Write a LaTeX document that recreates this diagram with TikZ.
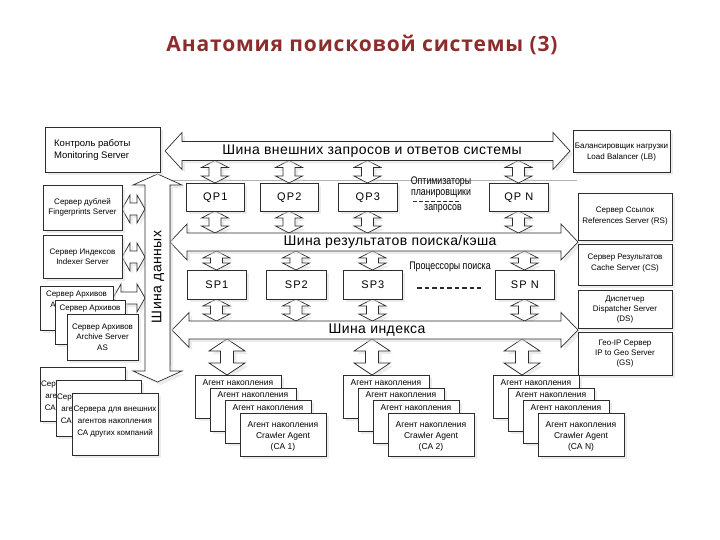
\documentclass[tikz,border=0pt]{standalone}
\usepackage{fontspec}
\setmainfont{Liberation Sans}
\newfontfamily\narrowfont[FakeStretch=0.8]{Liberation Sans}
\newfontfamily\spacedfont[LetterSpace=10]{Liberation Sans}
\newfontfamily\busfont[LetterSpace=3]{Liberation Sans}
\newfontfamily\titlefont[LetterSpace=4]{Open Sans}
\usetikzlibrary{shadows}
\definecolor{titlered}{RGB}{140,45,45}
\definecolor{lineclr}{RGB}{45,45,45}
\tikzset{
  shad/.style={drop shadow={shadow xshift=3pt,shadow yshift=-3pt,fill=black!15}},
  box/.style={draw=lineclr,line width=0.7pt,fill=white,shad,inner sep=0pt,anchor=north west},
  arr/.style={draw=lineclr,line width=0.7pt,fill=white,line join=miter,shad},
  txt/.style={font=\fontsize{8}{10.5}\selectfont,align=center,inner sep=0pt},
  exttxt/.style={font=\fontsize{8}{12}\selectfont,align=center,inner sep=0pt},
  bustxt/.style={font=\busfont\fontsize{14}{15}\selectfont,inner sep=0pt},
  proclbl/.style={font=\spacedfont\fontsize{11}{12}\selectfont,inner sep=0pt},
  nartxt/.style={font=\narrowfont\fontsize{11}{12}\selectfont,inner sep=0pt},
  thickdash/.style={line width=1.8pt,draw=lineclr,dash pattern=on 4.5pt off 3pt},
}
% horizontal double arrow: x1 x2 yc shafthalf headhalf headlen
\newcommand{\hdarr}[6]{%
  \draw[arr] (#1,#3) -- ({#1+#6},{#3-#5}) -- ({#1+#6},{#3-#4}) -- ({#2-#6},{#3-#4}) -- ({#2-#6},{#3-#5}) -- (#2,#3) -- ({#2-#6},{#3+#5}) -- ({#2-#6},{#3+#4}) -- ({#1+#6},{#3+#4}) -- ({#1+#6},{#3+#5}) -- cycle;}
% vertical double arrow: xc y1 y2 shafthalf headhalf headlen
\newcommand{\vdarr}[6]{%
  \draw[arr] (#1,#2) -- ({#1+#5},{#2+#6}) -- ({#1+#4},{#2+#6}) -- ({#1+#4},{#3-#6}) -- ({#1+#5},{#3-#6}) -- (#1,#3) -- ({#1-#5},{#3-#6}) -- ({#1-#4},{#3-#6}) -- ({#1-#4},{#2+#6}) -- ({#1-#5},{#2+#6}) -- cycle;}
\begin{document}
\begin{tikzpicture}[x=1pt,y=-1pt]
\useasboundingbox (0,0) rectangle (720,540);
\node[font=\titlefont\bfseries\fontsize{21}{25}\selectfont,text=titlered] (title) at (362,45) {Анатомия поисковой системы (3)};

% frame
\draw[black!30,line width=1pt] (170,366) -- (170,181) -- (577,181);

% small arrows QP
\foreach \x in {215,289,367.5,518.5} {
  \vdarr{\x}{160.5}{183}{6}{13.5}{7}
  \vdarr{\x}{211}{233}{6}{13.5}{7}
}
% small arrows SP
\foreach \x in {216.5,296,372.5,524.5} {
  \vdarr{\x}{251}{270}{6}{13.5}{7}
  \vdarr{\x}{299}{321}{6}{13.5}{7}
}
% crawler arrows
\foreach \x in {227,372,522} {
  \vdarr{\x}{339}{375}{6.5}{18}{12}
}
% left arrows
\hdarr{122}{145}{209}{6}{14}{8}
\hdarr{122}{145}{257}{6}{14}{8}
\hdarr{113}{145}{298}{6}{14}{8}

% buses
\hdarr{165}{570}{151}{9.5}{18.5}{17}
\hdarr{170}{578}{242}{9}{18}{17}
\hdarr{172}{578}{330}{9}{17.5}{17}
\vdarr{157.5}{174}{382}{12.5}{24.5}{11}
\node[bustxt] (bustop) at (372,151) {Шина внешних запросов и ответов системы};
\node[bustxt] (busres) at (390,242) {Шина результатов поиска/кэша};
\node[bustxt] (busidx) at (377,330) {Шина индекса};
\node[bustxt,rotate=90] (busdata) at (158,277) {Шина данных};

% left boxes
\node[box,minimum width=115pt,minimum height=45pt] (mon) at (45,127) {};
\node[txt,font=\fontsize{9.5}{11.5}\selectfont,align=left,anchor=west] (montxt) at (54,150) {Контроль работы\\Monitoring Server};
\node[box,minimum width=79pt,minimum height=45pt] (fp) at (43,185) {};
\node[txt] (fptxt) at (82.5,207.5) {Сервер дублей\\Fingerprints Server};
\node[box,minimum width=79pt,minimum height=43pt] (idx) at (43,235) {};
\node[txt] (idxtxt) at (82.5,256.5) {Сервер Индексов\\Indexer Server};

\node[box,minimum width=73pt,minimum height=44pt] (ar1) at (40,286) {};
\node[txt,anchor=north] (ar1txt) at (76.5,291) {Сервер Архивов\\Archive Server};
\node[box,minimum width=70pt,minimum height=44pt] (ar2) at (55,300) {};
\node[txt,anchor=north] (ar2txt) at (90,305) {Сервер Архивов};
\node[box,minimum width=71pt,minimum height=46pt] (ar3) at (67,314) {};
\node[txt] (ar3txt) at (102.5,337) {Сервер Архивов\\Archive Server\\AS};

\node[box,minimum width=85pt,minimum height=54pt] (ext1) at (40,367) {};
\node[exttxt,anchor=north] (ext1txt) at (82.5,381) {Сервера для внешних\\агентов накопления\\СА других компаний};
\node[box,minimum width=85pt,minimum height=56pt] (ext2) at (56,380) {};
\node[exttxt,anchor=north] (ext2txt) at (98.5,394) {Сервера для внешних\\агентов накопления\\СА других компаний};
\node[box,minimum width=86pt,minimum height=62pt] (ext3) at (72,393) {};
\node[exttxt] (ext3txt) at (115,422) {Сервера для внешних\\агентов накопления\\СА других компаний};

% QP boxes
\node[box,minimum width=58pt,minimum height=28pt] (qp1) at (186,183) {};
\node[box,minimum width=58pt,minimum height=28pt] (qp2) at (260,183) {};
\node[box,minimum width=59pt,minimum height=28pt] (qp3) at (338,183) {};
\node[box,minimum width=59pt,minimum height=28pt] (qpn) at (489,183) {};
\node[proclbl] (qp1t) at (qp1.center) {QP1};
\node[proclbl] (qp2t) at (qp2.center) {QP2};
\node[proclbl] (qp3t) at (qp3.center) {QP3};
\node[proclbl] (qpnt) at (qpn.center) {QP N};
\node[nartxt] (opt1) at (441,182) {Оптимизаторы};
\node[nartxt] (opt2) at (441,194) {планировщики};
\node[nartxt] (opt3) at (443,209) {запросов};
\coordinate (od1) at (413,201.5);
\coordinate (od2) at (461,201.5);
\draw[thickdash,line width=1.4pt,dash pattern=on 3.5pt off 2.5pt] (od1) -- (od2);

% SP boxes
\node[box,minimum width=59pt,minimum height=29pt] (sp1) at (187,270) {};
\node[box,minimum width=60pt,minimum height=29pt] (sp2) at (266,270) {};
\node[box,minimum width=59pt,minimum height=29pt] (sp3) at (343,270) {};
\node[box,minimum width=59pt,minimum height=29pt] (spn) at (495,270) {};
\node[proclbl] (sp1t) at (sp1.center) {SP1};
\node[proclbl] (sp2t) at (sp2.center) {SP2};
\node[proclbl] (sp3t) at (sp3.center) {SP3};
\node[proclbl] (spnt) at (spn.center) {SP N};
\node[nartxt] (proc) at (450,267) {Процессоры поиска};
\coordinate (sd1) at (417,288);
\coordinate (sd2) at (481,288);
\draw[thickdash] (sd1) -- (sd2);

% right boxes
\node[box,minimum width=97pt,minimum height=42pt] (lb) at (573,130) {};
\node[txt] (lbtxt) at (621.5,152) {Балансировщик нагрузки\\Load Balancer (LB)};
\node[box,minimum width=94pt,minimum height=47pt] (rs) at (578,193) {};
\node[txt] (rstxt) at (625,216) {Сервер Ссылок\\References Server (RS)};
\node[box,minimum width=94pt,minimum height=41pt] (cs) at (578,244) {};
\node[txt] (cstxt) at (625,263) {Сервер Результатов\\Cache Server (CS)};
\node[box,minimum width=94pt,minimum height=38pt] (ds) at (578,290) {};
\node[txt,font=\fontsize{8}{10}\selectfont] (dstxt) at (625,309.5) {Диспетчер\\Dispatcher Server\\(DS)};
\node[box,minimum width=94pt,minimum height=43pt] (gs) at (578,332) {};
\node[txt,font=\fontsize{8}{10}\selectfont] (gstxt) at (625,354) {Гео-IP Сервер\\IP to Geo Server\\(GS)};

% crawler stacks
\foreach \s/\x/\lab in {1/195/CA 1,2/343/CA 2,3/493/CA N} {
  \foreach \j in {0,1,2} {
    \node[box,minimum width=86pt,minimum height=43pt] (ca\s\j) at ({\x+15*\j},{375+12.5*\j}) {};
    \node[txt,font=\fontsize{8.5}{11}\selectfont] (ca\s\j t) at ({\x+15*\j+43},{375+12.5*\j+7.5}) {Агент накопления};
  }
  \node[box,minimum width=86pt,minimum height=43pt] (ca\s3) at ({\x+45},412.5) {};
  \node[txt,font=\fontsize{8.5}{11}\selectfont] (ca\s3t) at ({\x+45+43},436) {Агент накопления\\Crawler Agent\\(\lab)};
}
\end{tikzpicture}
\end{document}
